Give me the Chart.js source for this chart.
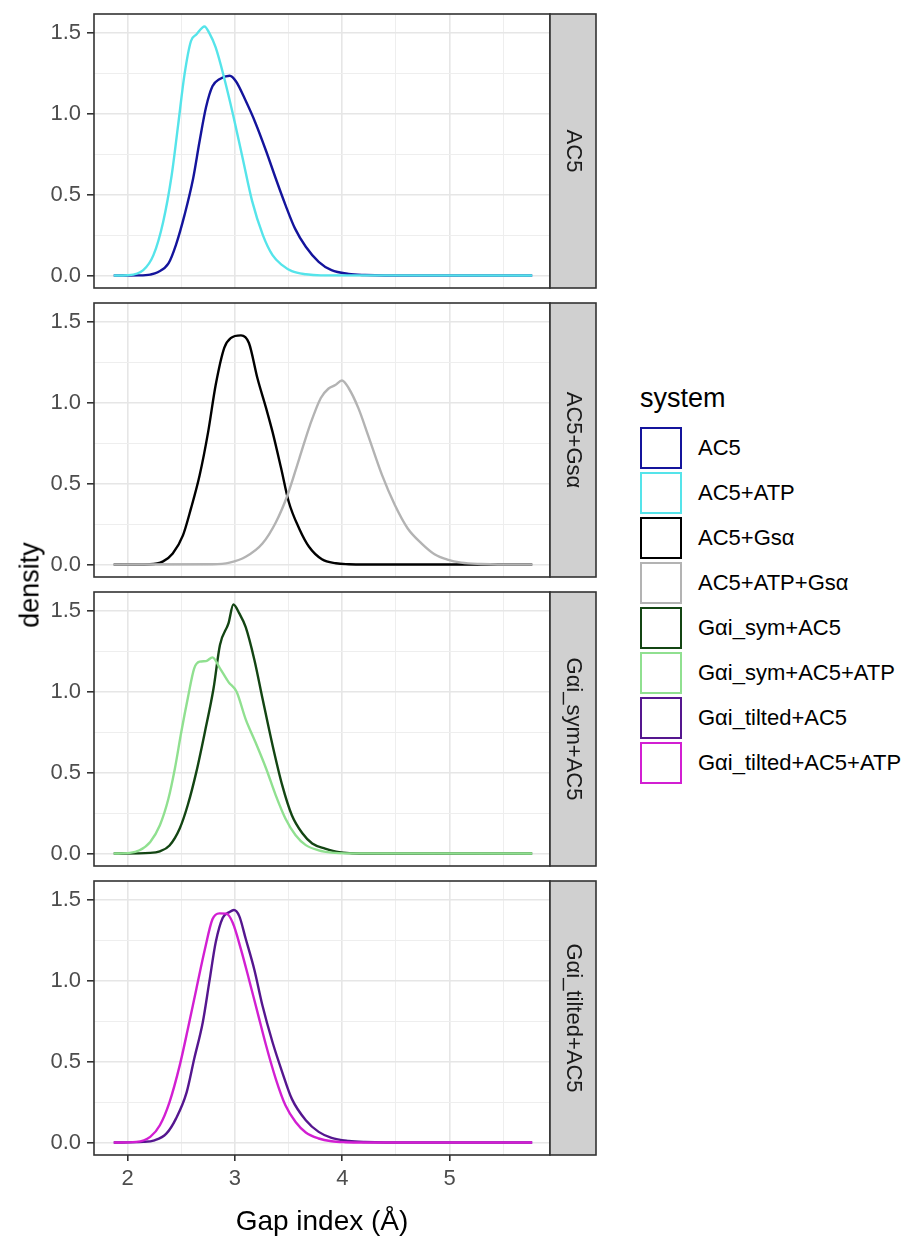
<!DOCTYPE html>
<html>
<head>
<meta charset="utf-8">
<script src="https://cdn.jsdelivr.net/npm/chart.js@4.4.0/dist/chart.umd.min.js"></script>
<style>
  body { margin: 0; background: #fff; font-family: "Liberation Sans", Arial, sans-serif; }
  #wrap { position: relative; width: 914px; height: 1236px; overflow: hidden; }
  canvas { position: absolute; left: 0; }
  .ytitle { position: absolute; left: 30px; top: 585px; transform: translate(-50%, -50%) rotate(-90deg);
            font-size: 27px; color: #000; white-space: nowrap; }
  .legend { position: absolute; left: 640px; top: 383px; }
  .legend .title { font-size: 27px; color: #000; height: 42px; line-height: 30px; }
  .legend .item { height: 45px; display: flex; align-items: center; }
  .legend .key { width: 38px; height: 38px; border: 2.5px solid; background: #fff; margin-right: 16px; }
  .legend .lab { font-size: 22px; color: #000; }
</style>
</head>
<body>
<div id="wrap">
  <canvas id="p0" width="600" height="314"></canvas>
  <canvas id="p1" width="600" height="314"></canvas>
  <canvas id="p2" width="600" height="314"></canvas>
  <canvas id="p3" width="600" height="375"></canvas>
  <div class="ytitle">density</div>
  <div class="legend" id="legend"><div class="title">system</div></div>
</div>
<script>
// density curves, [gap index, density]
const AC5 = [[1.87,0],[2.1,0.001],[2.21,0.006],[2.28,0.02],[2.38,0.075],[2.45,0.19],[2.53,0.375],[2.61,0.6],[2.67,0.83],[2.73,1.04],[2.79,1.17],[2.855,1.214],[2.95,1.235],[3.01,1.2],[3.1,1.08],[3.19,0.945],[3.29,0.77],[3.38,0.6],[3.47,0.437],[3.56,0.29],[3.66,0.178],[3.78,0.085],[3.9,0.033],[4.06,0.01],[4.21,0.003],[4.4,0],[5.77,0]];
const AC5_ATP = [[1.87,0],[2.0,0.002],[2.145,0.033],[2.24,0.126],[2.33,0.33],[2.41,0.62],[2.47,0.93],[2.53,1.245],[2.59,1.45],[2.64,1.49],[2.716,1.54],[2.76,1.5],[2.82,1.41],[2.9,1.22],[2.98,1.0],[3.07,0.73],[3.16,0.46],[3.26,0.25],[3.35,0.126],[3.44,0.064],[3.53,0.027],[3.66,0.008],[3.8,0.001],[5.77,0]];
const AC5_GSA = [[1.87,0],[2.207,0.002],[2.33,0.02],[2.42,0.068],[2.515,0.18],[2.59,0.347],[2.67,0.55],[2.75,0.82],[2.82,1.11],[2.9,1.34],[2.96,1.4],[3.056,1.417],[3.13,1.37],[3.21,1.15],[3.29,0.967],[3.35,0.82],[3.43,0.595],[3.5,0.39],[3.6,0.22],[3.69,0.11],[3.81,0.033],[3.94,0.008],[4.06,0.002],[4.2,0],[5.77,0]];
const AC5_ATP_GSA = [[1.87,0],[2.79,0.002],[2.95,0.012],[3.1,0.048],[3.256,0.13],[3.38,0.26],[3.49,0.43],[3.6,0.657],[3.7,0.864],[3.8,1.03],[3.87,1.087],[3.935,1.11],[3.997,1.138],[4.06,1.09],[4.15,0.967],[4.24,0.8],[4.37,0.554],[4.49,0.368],[4.61,0.223],[4.74,0.13],[4.86,0.064],[4.98,0.031],[5.11,0.012],[5.29,0.003],[5.45,0],[5.77,0]];
const GAI_SYM = [[1.87,0],[2.21,0.004],[2.3,0.014],[2.39,0.05],[2.485,0.155],[2.56,0.3],[2.64,0.505],[2.72,0.753],[2.8,1.02],[2.86,1.29],[2.94,1.425],[2.985,1.54],[3.04,1.485],[3.1,1.4],[3.18,1.2],[3.256,0.96],[3.35,0.67],[3.44,0.423],[3.53,0.237],[3.63,0.124],[3.72,0.062],[3.84,0.031],[3.97,0.008],[4.09,0.002],[4.25,0],[5.77,0]];
const GAI_SYM_ATP = [[1.87,0],[2.02,0.004],[2.11,0.02],[2.21,0.072],[2.3,0.175],[2.38,0.34],[2.44,0.526],[2.5,0.753],[2.56,0.96],[2.62,1.145],[2.67,1.186],[2.73,1.19],[2.79,1.213],[2.86,1.145],[2.94,1.06],[3.015,1.0],[3.1,0.83],[3.19,0.69],[3.29,0.526],[3.38,0.36],[3.47,0.217],[3.565,0.113],[3.66,0.052],[3.78,0.02],[3.9,0.006],[4.03,0.001],[5.77,0]];
const GAI_TILT = [[1.87,0],[2.145,0.004],[2.25,0.014],[2.36,0.055],[2.45,0.148],[2.55,0.312],[2.62,0.518],[2.7,0.744],[2.76,0.99],[2.82,1.237],[2.886,1.39],[2.95,1.426],[2.99,1.438],[3.04,1.4],[3.1,1.26],[3.18,1.07],[3.256,0.847],[3.35,0.62],[3.44,0.436],[3.53,0.27],[3.66,0.138],[3.78,0.066],[3.9,0.029],[4.06,0.01],[4.21,0.003],[4.4,0],[5.77,0]];
const GAI_TILT_ATP = [[1.87,0],[2.08,0.004],[2.21,0.035],[2.3,0.107],[2.39,0.25],[2.485,0.477],[2.56,0.7],[2.64,0.95],[2.72,1.196],[2.79,1.38],[2.855,1.417],[2.92,1.415],[2.98,1.357],[3.055,1.196],[3.13,1.01],[3.21,0.805],[3.29,0.6],[3.38,0.394],[3.47,0.23],[3.565,0.127],[3.66,0.062],[3.78,0.025],[3.9,0.008],[4.03,0.002],[4.2,0],[5.77,0]];

const systems = ["AC5", "AC5+ATP", "AC5+Gsα", "AC5+ATP+Gsα", "Gαi_sym+AC5", "Gαi_sym+AC5+ATP", "Gαi_tilted+AC5", "Gαi_tilted+AC5+ATP"];
const colors = ["#14149c", "#55e4ea", "#000000", "#b3b3b3", "#134513", "#90e090", "#55168f", "#d21fd2"];
const curves = [AC5, AC5_ATP, AC5_GSA, AC5_ATP_GSA, GAI_SYM, GAI_SYM_ATP, GAI_TILT, GAI_TILT_ATP];
const facets = ["AC5", "AC5+Gsα", "Gαi_sym+AC5", "Gαi_tilted+AC5"];

const xTicks = [2, 2.5, 3, 3.5, 4, 4.5, 5, 5.5];
const yTicks = [0, 0.25, 0.5, 0.75, 1, 1.25, 1.5];
const xMin = 1.686, xMax = 5.936;
const yMin = -0.077, yMax = 1.617;

const panelTops = [14, 303, 592, 881];
const FONT = "'Liberation Sans', Arial, sans-serif";

const isMajorY = (v) => Math.abs(v * 2 - Math.round(v * 2)) < 1e-6;

// panel frame + facet strip on the right
const framePlugin = {
  id: "frame",
  afterDraw(chart, args, opts) {
    const { ctx, chartArea: a } = chart;
    ctx.save();
    ctx.strokeStyle = "#333333";
    ctx.lineWidth = 1.6;
    ctx.strokeRect(a.left, a.top, a.right - a.left, a.bottom - a.top);
    const sw = 46;
    ctx.fillStyle = "#d0d0d0";
    ctx.fillRect(a.right, a.top, sw, a.bottom - a.top);
    ctx.strokeRect(a.right, a.top, sw, a.bottom - a.top);
    ctx.translate(a.right + sw / 2, (a.top + a.bottom) / 2);
    ctx.rotate(Math.PI / 2);
    ctx.fillStyle = "#1a1a1a";
    ctx.font = "22px " + FONT;
    ctx.textAlign = "center";
    ctx.textBaseline = "middle";
    ctx.fillText(opts.label, 0, 0);
    ctx.restore();
  },
};

function makePanel(i) {
  const bottom = i === 3;
  const canvas = document.getElementById("p" + i);
  canvas.style.top = (panelTops[i] - 20) + "px";
  const a = i * 2, b = i * 2 + 1;
  const ds = (k, order) => ({
    label: systems[k],
    data: curves[k].map(([x, y]) => ({ x, y })),
    borderColor: colors[k],
    borderWidth: 2.4,
    pointRadius: 0,
    fill: false,
    cubicInterpolationMode: "monotone",
    order,
  });
  new Chart(canvas, {
    type: "line",
    data: { datasets: [ds(a, 1), ds(b, 0)] },
    plugins: [framePlugin],
    options: {
      responsive: false,
      animation: false,
      devicePixelRatio: 1,
      layout: { padding: { top: 20, bottom: bottom ? 0 : 20, left: 0, right: 50 } },
      plugins: { legend: { display: false }, tooltip: { enabled: false }, frame: { label: facets[i] } },
      scales: {
        x: {
          type: "linear",
          min: xMin,
          max: xMax,
          afterBuildTicks(s) { s.ticks = xTicks.map((v) => ({ value: v })); },
          afterFit(s) { s.height = bottom ? 81 : 0; },
          border: { display: false },
          grid: {
            drawTicks: bottom,
            tickLength: 6,
            color: (c) => (c.tick && Number.isInteger(c.tick.value) ? "#e6e6e6" : "#eeeeee"),
            lineWidth: (c) => (c.tick && Number.isInteger(c.tick.value) ? 1.6 : 1),
            tickColor: (c) => (c.tick && Number.isInteger(c.tick.value) ? "#333333" : "rgba(0,0,0,0)"),
            tickWidth: 1.6,
          },
          ticks: {
            display: bottom,
            autoSkip: false,
            maxRotation: 0,
            padding: 5,
            color: "#4d4d4d",
            font: { size: 22, family: FONT },
            callback: (v) => (Number.isInteger(v) ? String(v) : ""),
          },
          title: {
            display: bottom,
            text: "Gap index (Å)",
            color: "#000000",
            font: { size: 28, family: FONT, lineHeight: 1 },
            padding: { top: 4, bottom: 0 },
          },
        },
        y: {
          min: yMin,
          max: yMax,
          afterBuildTicks(s) { s.ticks = yTicks.map((v) => ({ value: v })); },
          afterFit(s) { s.width = 94; },
          border: { display: false },
          grid: {
            tickLength: 7,
            color: (c) => (c.tick && isMajorY(c.tick.value) ? "#e6e6e6" : "#eeeeee"),
            lineWidth: (c) => (c.tick && isMajorY(c.tick.value) ? 1.6 : 1),
            tickColor: (c) => (c.tick && isMajorY(c.tick.value) ? "#333333" : "rgba(0,0,0,0)"),
            tickWidth: 1.6,
          },
          ticks: {
            autoSkip: false,
            padding: 6,
            color: "#4d4d4d",
            font: { size: 22, family: FONT },
            callback: (v) => (isMajorY(v) ? v.toFixed(1) : ""),
          },
        },
      },
    },
  });
}

[0, 1, 2, 3].forEach(makePanel);

// legend
const leg = document.getElementById("legend");
systems.forEach((name, k) => {
  const row = document.createElement("div");
  row.className = "item";
  const key = document.createElement("div");
  key.className = "key";
  key.style.borderColor = colors[k];
  const lab = document.createElement("span");
  lab.className = "lab";
  lab.textContent = name;
  row.appendChild(key);
  row.appendChild(lab);
  leg.appendChild(row);
});
</script>
</body>
</html>
